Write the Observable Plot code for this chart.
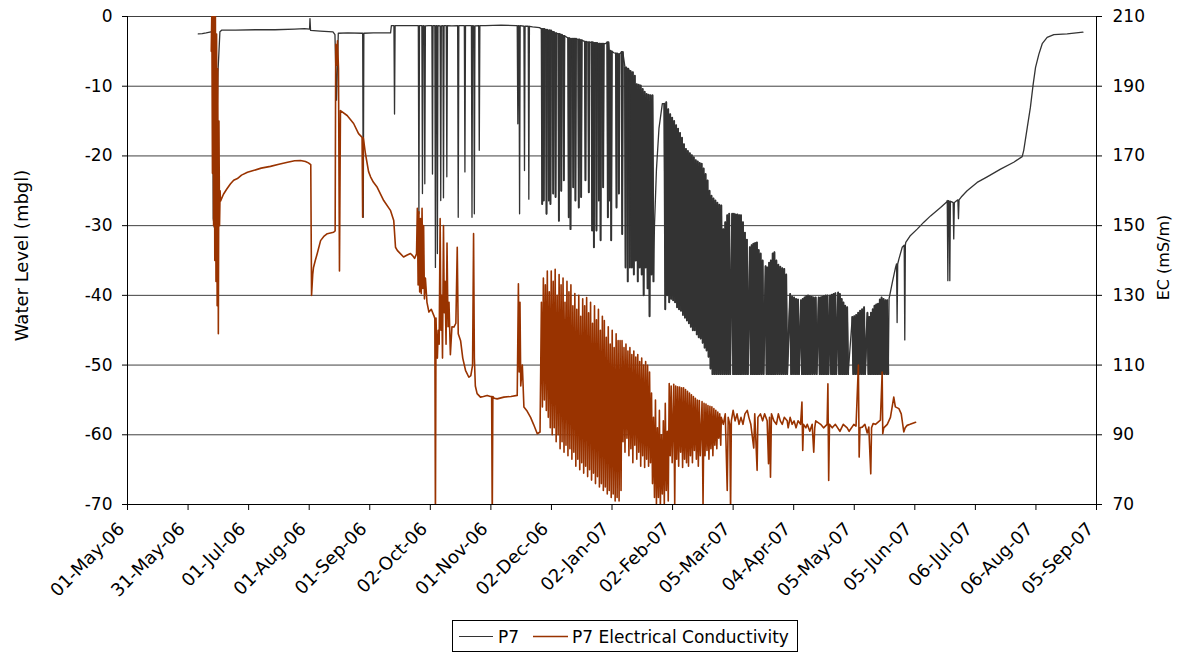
<!DOCTYPE html>
<html>
<head>
<meta charset="utf-8">
<script src="https://cdn.jsdelivr.net/npm/d3@7"></script>
<script src="https://cdn.jsdelivr.net/npm/@observablehq/plot@0.6"></script>
<style>
  html, body { margin: 0; padding: 0; background: #fff; }
  #wrap { position: relative; width: 1185px; height: 654px; font-family: "DejaVu Sans", sans-serif; }
  #legend { position: absolute; left: 452px; top: 620px; width: 344px; height: 30px; border: 1px solid #000; background: #fff; }
  #legend text { font-family: "DejaVu Sans", sans-serif; font-size: 17px; fill: #000; }
</style>
</head>
<body>
<div id="wrap">
  <div id="chart"></div>
  <div id="legend">
    <svg width="344" height="30" style="display:block">
      <line x1="6" x2="40" y1="15.5" y2="15.5" stroke="#333" stroke-width="1.2"></line>
      <text x="45" y="21.5">P7</text>
      <line x1="80" x2="115" y1="15.5" y2="15.5" stroke="#993300" stroke-width="1.6"></line>
      <text x="119" y="21.5">P7 Electrical Conductivity</text>
    </svg>
  </div>
</div>
<script>
// ---------- axis ticks ----------
const levelTicks = [0, -10, -20, -30, -40, -50, -60, -70];
const ecTicks = [210, 190, 170, 150, 130, 110, 90, 70];
const xTickDays = [0, 30.8, 61.6, 92.4, 123.2, 154, 184.8, 215.6, 246.4, 277.2, 308, 338.8, 369.6, 400.4, 431.2, 462, 492.8];
const xTickLabels = ["01-May-06", "31-May-06", "01-Jul-06", "01-Aug-06", "01-Sep-06", "02-Oct-06", "01-Nov-06", "02-Dec-06",
  "02-Jan-07", "02-Feb-07", "05-Mar-07", "04-Apr-07", "05-May-07", "05-Jun-07", "06-Jul-07", "06-Aug-07", "05-Sep-07"];

// ---------- P7 water level (m), x = days since 01-May-06 ----------
// plain readings [day, level]
const p7Points = [
  [36,-2.5],[38,-2.45],[40,-2.35],[42.5,-2.2],[43.3,-2.2],[43.6,-29],[44.2,-30.3],[44.6,-27],[45.2,-20],[46,-8],[47,-2.2],
  [48,-1.95],[55,-1.95],[65,-1.9],[75,-1.9],[85,-1.8],[90,-1.75],[92.6,-1.8],[92.8,-0.3],[93.1,-2.0],[98,-2.1],[104.5,-2.2],
  [105.5,-2.6],[106.3,-12],[107.2,-2.4],[112,-2.35],[119.3,-2.4],[125,-2.35],[133.8,-2.35],[134.2,-1.3],[140,-1.3],[147.5,-1.3],
  [153,-1.3],[165,-1.35],[173.5,-1.3],[182,-1.3],[190,-1.25],[197.5,-1.3],[203,-1.4],[206,-1.5],[209.5,-1.6],
  [223,-2.9],[231.8,-3.5],[243,-3.9],[247.3,-5.2],
  [268,-30],[269,-22],[270.3,-16],[272,-12.5],
  [387.3,-40.5],[387.8,-39.8],[389,-38.1],[390.6,-36],[392.3,-34.8],[394,-33.1],[395.8,-32.4],[398.2,-31.4],[401.6,-30.5],
  [405,-29.5],[408.4,-28.6],[413.5,-27.4],[416.6,-26.6],[419.2,-26.6],[421.3,-26.5],[424,-25.9],[427,-25],[432.1,-23.8],
  [437.2,-23],[444,-21.9],[450.7,-20.9],[455,-20.1],[455.8,-19.2],[457.6,-15.9],[459.2,-13],[460.6,-9.7],[461.8,-7.3],
  [463.5,-5.4],[465.2,-3.9],[467.7,-3],[471.1,-2.6],[477.9,-2.5],[485.9,-2.25]
];
// short pumping spikes [day, resting level, lowest level]
const p7Spikes = [
  [119.9,-2.4,-28.8],[135.8,-1.3,-14],[148.2,-1.3,-28.3],[150,-1.3,-25.4],[151.2,-1.35,-24],[155.1,-1.3,-22.6],
  [156.6,-1.3,-36],[157.6,-1.3,-34],[159.3,-1.35,-26.4],[160.7,-1.3,-26],[162.4,-1.3,-23],[168.2,-1.3,-28.8],
  [171.6,-1.3,-22.3],[175.2,-1.3,-28.8],[176.4,-1.35,-28.3],[178.9,-1.3,-19.2],[198.5,-1.3,-15.4],[199.4,-1.3,-28.3],
  [201.9,-1.4,-22.1],[204.1,-1.4,-26.2],
  [210.9,-1.77,-26.9],[211.7,-1.8,-26.4],[213.1,-1.9,-28.3],[214.3,-2.0,-26.4],[215.1,-2.0,-26.9],[216.5,-2.2,-25.4],
  [217.7,-2.4,-25.9],[219.4,-2.5,-29.3],[220.6,-2.6,-25],[221.9,-2.8,-23.5],[224.4,-3.1,-28.8],[225.3,-3.2,-30.5],
  [226.7,-3.2,-24.5],[227.8,-3.2,-26.4],[229.5,-3.3,-27.4],[230.7,-3.4,-25.9],[232.9,-3.6,-23.5],[234.6,-3.7,-25.2],
  [236.3,-3.7,-30.7],[237.2,-3.8,-33.1],[238.5,-3.8,-30.7],[239.7,-3.9,-26.4],[240.6,-3.9,-32.1],[241.9,-3.9,-24.5],
  [244.3,-3.7,-28.8],[245.3,-4.9,-26.4],[246,-5.0,-32.1],[248.7,-5.3,-27.4],[249.9,-5.4,-25.4],[251.6,-5.1,-31.2],
  [253.3,-7.3,-36],[254.4,-7.5,-38],[255.5,-7.8,-36],
  [391.4,-35.5,-43.9],[395.3,-32.8,-46.4],[417.2,-26.4,-37.9],[418.2,-26.5,-37.9],[420.2,-26.7,-31.9],[422.6,-26.3,-29]
];
// daily pumping cycles [day, recovered level, pumped level]
const p7Cycles = [
  [256,-8,-36],[257,-8,-37],[258,-8.5,-35],[259,-9.7,-38],[260,-9.8,-36],[261,-9.9,-37],[262,-10.4,-40],[263,-10.8,-36],
  [264,-11.1,-39],[265,-11.2,-43],[266,-11.3,-37],[267,-11.3,-38],
  [273,-12.5,-42],[274,-12.3,-40],[275,-13.3,-41],[276,-14,-40.5],[277,-14.5,-40.7],[278,-15,-41],[279,-15.6,-41.7],
  [280,-16.1,-42],[281,-16.7,-42.2],[282,-17.4,-42.8],[283,-18.3,-43.2],[284,-19,-43.6],[285,-19.3,-44],[286,-19.6,-44.5],
  [287,-19.9,-45],[288,-20.2,-45],[289,-20.6,-45.6],[290,-20.8,-46],[291,-21,-46.2],[292,-21.1,-46.8],[293,-21.8,-47.5],
  [294,-22.6,-47.9],[295,-23.5,-48.8],[296,-25,-50.5],[297,-25.7,-51.3],
  [298,-26.1,-51.3],[299,-26.4,-51.3],[300,-26.7,-51.3],[301,-27,-51.3],[302,-27.1,-51.3],[303,-30.5,-51.3],[304,-29.5,-51.3],
  [305,-28.5,-51.3],[306,-28.3,-51.3],[307.5,-28.3,-51.3],[308.4,-28.3,-51.3],[309.3,-28.4,-51.3],[310.2,-28.4,-51.3],
  [311.1,-28.5,-51.3],[312,-28.5,-51.3],[313,-29.5,-51.3],[314,-31,-51.3],[315,-32,-51.3],[316.5,-33.1,-51.3],
  [317.4,-32.8,-51.3],[318.3,-32.6,-51.3],[319.2,-32.5,-51.3],[320.1,-32.4,-51.3],[321,-33.5,-51.3],[322,-34,-51.3],
  [323,-35,-51.3],[324.5,-35.8,-51.3],[325.4,-36,-51.3],[326.3,-35.3,-51.3],[327.2,-35,-51.3],[328.1,-34,-51.3],
  [329,-33.8,-51.3],[330,-35,-51.3],[331,-35.6,-51.3],[332,-35.9,-51.3],[333,-36.1,-51.3],[334,-36.2,-51.3],[335,-37,-51.3],
  [337,-39.8,-51.3],[338,-40.2,-51.3],[339,-40.3,-51.3],[340,-40.5,-51.3],[341,-40.6,-51.3],[342.5,-40.7,-51.3],
  [343.4,-40.5,-51.3],[344.3,-40.3,-51.3],[345.2,-40.1,-51.3],[346.1,-40,-51.3],[347,-40.1,-51.3],[348,-40.2,-51.3],
  [349,-40.3,-51.3],[350,-40.3,-51.3],[351.5,-40.3,-51.3],[352.4,-40.3,-51.3],[353.3,-40.2,-51.3],[354.2,-40.1,-51.3],
  [355.1,-40,-51.3],[356,-40,-51.3],[357.3,-40,-51.3],[358.2,-39.9,-51.3],[359.1,-39.8,-51.3],[360,-39.7,-51.3],
  [361.4,-39.6,-51.3],[362.3,-39.8,-51.3],[363.2,-40.5,-51.3],[364.1,-41,-51.3],[365,-41.5,-51.3],[366,-41.7,-51.3],
  [368.6,-43.1,-51.3],[369.6,-43,-51.3],[370.6,-42.8,-51.3],[371.6,-42.5,-51.3],[372.6,-42.2,-51.3],[373.6,-42,-51.3],
  [374.6,-41.7,-51.3],[376.3,-42.5,-51.3],[377.2,-43.1,-51.3],[378.1,-42.5,-51.3],[379,-42,-51.3],[379.9,-41.5,-51.3],
  [380.8,-41.3,-51.3],[381.7,-41.2,-51.3],[382.6,-40.6,-51.3],[383.5,-40.3,-51.3],[384.5,-40.5,-51.3],[385.5,-40.7,-51.3],
  [386.4,-40.7,-51.3]
];

// ---------- P7 electrical conductivity (mS/m) ----------
const ecPoints = [
  [42.6,200],[42.9,212],[43.2,165],[43.5,212],[43.8,150],[44.1,212],[44.4,140],[44.7,210],[45,134],[45.3,205],[45.6,127],
  [45.9,195],[46.2,119],[46.5,180],[46.8,150],[47.1,160],[47.3,157],
  [48.8,159],[50.5,160.5],[52.4,162],[54,163],[55.9,163.5],[58,164.5],[61,165.3],[64,165.8],[68,166.5],[72.7,167],[77,167.6],
  [81.4,168.2],[85,168.6],[88,168.7],[90.5,168.4],[92,168],[93.2,167.5],
  [93.6,130],[94.2,136],[94.6,138],[95.5,140],[96.5,142],[98.2,145.7],[100,147],[101.6,147.7],[104.8,148.1],[105.6,148.5],
  [105.9,202],[106.4,196],[106.8,203],[107.3,195],[107.8,137],[108.3,183],[111.7,181.6],[115,179.3],[117.5,176.4],[119.2,175.4],
  [120.2,174],[121,170.7],[122.6,165.5],[123.6,164],[125,162.5],[127,161],[130.3,157.2],[133.8,154.3],[135.4,151.5],
  [136.3,143.8],[137.2,142.9],[140.4,141],[142,141.5],[143.9,142],[145,141.4],[146,140.6],
  [147,141.9],[147.4,155],[147.8,133],[148.2,154],[148.6,131],[149,152],[149.4,130.5],[149.8,155],[150.2,132],[150.6,150],
  [151,129],[151.5,135],[152.3,128],[153.3,125.2],[154.5,126],[155.8,124.2],[156.2,123.5],
  [157.2,117],[157.6,112],[158,120],[158.5,116],[159,152],[159.4,120],[159.8,130],[160.2,112],[160.7,150],[161.1,125],
  [161.5,134],[162,116],[162.5,145],[163,121],[163.5,128],[164.2,113],[165,121],[166,120.9],[167,122],[167.7,143.8],
  [168.2,119],[169.4,117],[170.5,112],[171.9,108.5],[173.6,106.5],[174.6,107],[175.5,110],[176,147.7],[176.4,112],
  [176.9,104],[177.8,101.8],[179.5,100.8],[181,101],[182.9,101.3],[184.6,101],
  [186.5,100.5],[188,100.3],[191.4,100.8],[195,101],[198.2,101.3],[198.8,133.3],[199.2,108],[199.6,128],[200,104],
  [200.8,110],[201.6,98],[203,97],[205,95],[206.5,93],[208.4,90.3],[209.8,90.8],
  [302,95],[303,93],[304,96],[305,74],[305.5,95],[306.3,93],[306.7,68],[307.1,94],[308,97],[309,94],[310,96],[311,93],
  [312,95],[313,93],[314,96],[315.2,97],[316,95],[317,93],[318.5,86.2],[319,96],[320.2,79.8],[320.6,95],[321.9,96],
  [323,94],[324,96],[325.3,94],[326,81.7],[326.5,95],[327,77.8],[327.5,96],[328.7,94],[330,93],[331,96],[332,94],
  [333,93],[334,95],[335.5,94],[336,92],[337,95],[338,93],[339,94],[340,92],[341,94],[342.3,93],[343,99.4],[343.4,85.5],
  [343.8,93],[345,92],[345.7,93],[347,91],[348.2,93],[349,85],[349.5,92],[350,94],[352.5,93],[354,92],[355.8,93],
  [356.2,104.6],[356.6,76.9],[357,93],[358.4,92],[360,93],[362.3,91],[364,93],[366,92],[367,91],[369.4,93],[370.5,92.5],
  [371.7,110],[372.1,83.6],[372.5,92],[373.7,92.2],[375,93],[376.2,90.5],[377,92.2],[378,78.8],[378.4,92],[379.2,93.2],
  [380.4,93],[382.9,94.2],[383.8,108],[384.1,90.3],[384.6,92],[386.4,93],[388,95],[389.7,100.8],[390.5,98],[392.3,97.5],
  [393.5,96],[394.8,90.8],[395.5,92],[396.5,92.7],[398,93],[400.8,93.6]
];
// single-reading spikes [day, surrounding EC, extreme EC]
const ecSpikes = [
  [119.6,175.2,152.4],[156.6,123.5,65],[185.5,101,65]
];
// dense pumping-period swings [day, high EC, low EC]
const ecCycles = [
  [210.5,128,98],[211.5,135,100],[212.5,133,97],[213.5,137,95],[214.5,131,92],[215.5,137,90],[216.5,134,92],[217.5,137.5,88],
  [218.5,130,90],[219.5,136,86],[220.5,133,88],[221.5,135,85],[222.5,128,87],[223.5,134,84],[224.5,131,86],[225.5,133,83],
  [226.5,127,85],[227.5,130.5,81],[228.5,126,83],[229.5,130,80],[230.5,124,82],[231.5,129,79],[232.5,127,81],[233.5,129.4,78],
  [234.5,125,80],[235.5,128,77],[236.5,122,79],[237.5,127,76],[238.5,123,78],[239.5,126,75],[240.5,120,76],[241.5,124,74],
  [242.5,122.8,75],[243.5,118,73],[244.5,121,74],[245.5,116,72],[246.5,120,73],[247.5,115,71],[248.5,119,72],[249.5,117,71],
  [250.5,117,74],
  [251.5,117,88],[252.5,115,85],[253.5,116,89],[254.5,114,84],[255.5,115,86],[256.5,113,82],[257.5,114,87],[258.5,112.3,83],
  [259.5,113,85],[260.5,111,81],[261.5,112,84],[262.5,110,80.6],[263.5,111,83],[264.5,109.9,81],[265.5,108,82],
  [266.5,102,76],[267.5,95,72],[268.5,100,70],[269.5,92,72],[270.5,97,69],[271.5,90,73],[272.5,94,70],[273.5,99,74],[274.5,91,71],
  [275.5,104.7,84],[276.5,104,82],[277.8,104.5,70],[278.8,104,83],[279.8,103.8,81],[280.8,103.7,85],[281.8,103.5,80.6],
  [282.8,103.5,83],[283.8,103,82],[284.8,102.5,81],[285.8,102,84],[286.8,101.5,82],[287.8,101,85.5],[288.8,100.5,83],
  [289.8,100,81],[290.8,99.8,84],[292.2,99.5,70],[293.2,99,84],[294.2,98.8,85.5],[295.2,98.4,83],[296.2,98.2,86],
  [297.2,98,84],[298.2,97.5,87],[299.2,97,86],[300.2,96.5,89],[301.2,96,87]
];

// ---------- build tables ----------
const DAY = 864e5;
const t0 = Date.UTC(2006, 4, 1);
const toDate = d => new Date(t0 + d * DAY);
const toLevel = e => (e - 210) / 2; // EC axis (70..210) shares the level axis (-70..0)

function buildSeries(points, spikes, cycles) {
  const out = [];
  for (const [d, v] of points) out.push([d, v]);
  for (const [d, a, b] of spikes) out.push([d - 0.3, a], [d, b], [d + 0.3, a]);
  for (const [d, a, b] of cycles) out.push([d, a], [d + 0.5, b]);
  out.sort((p, q) => p[0] - q[0]);
  return out.map(([d, v]) => ({date: toDate(d), v}));
}
// heavier overlay: each spike on its own, the continuous daily cycles split at pauses
function buildOverlay(spikes, cycles) {
  const out = [];
  spikes.forEach(([d, a, b], i) => {
    const g = "s" + i;
    out.push({date: toDate(d - 0.3), v: a, g}, {date: toDate(d), v: b, g}, {date: toDate(d + 0.3), v: a, g});
  });
  let run = 0, prev = -Infinity;
  for (const [d, a, b] of cycles) {
    if (d - prev > 2.2) run++;
    const g = "c" + run;
    out.push({date: toDate(d), v: a, g}, {date: toDate(d + 0.5), v: b, g});
    prev = d;
  }
  return out;
}
const p7 = buildSeries(p7Points, p7Spikes, p7Cycles);
const p7Heavy = buildOverlay(p7Spikes.filter(s => s[0] > 205 && s[0] < 260), p7Cycles);
const ec = buildSeries(ecPoints, ecSpikes, ecCycles);
const xTicks = xTickDays.map((d, i) => ({date: toDate(d), label: xTickLabels[i]}));
const ecLabel = new Map(ecTicks.map(e => [toLevel(e), String(e)]));

const chart = Plot.plot({
  width: 1185,
  height: 615,
  marginLeft: 127,
  marginRight: 89,
  marginTop: 16,
  marginBottom: 111,
  style: {fontFamily: "'DejaVu Sans', sans-serif", fontSize: "17px", background: "#fff", color: "#000", overflow: "visible"},
  x: {type: "utc", domain: [toDate(0), toDate(492.8)], axis: null},
  y: {domain: [-70, 0], axis: null},
  marks: [
    Plot.ruleY(levelTicks.filter(v => v > -70), {stroke: "#404040", strokeWidth: 1}),
    Plot.line(p7, {x: "date", y: "v", stroke: "#333", strokeWidth: 1.3, clip: true}),
    Plot.line(p7Heavy, {x: "date", y: "v", z: "g", stroke: "#333", strokeWidth: 1.9, clip: true}),
    Plot.line(ec, {x: "date", y: d => toLevel(d.v), stroke: "#993300", strokeWidth: 1.6, clip: true}),
    Plot.ruleY([-70], {stroke: "#000"}),
    Plot.ruleX([toDate(0), toDate(492.8)], {stroke: "#000"}),
    Plot.axisY(levelTicks, {anchor: "left", tickSize: 5, tickPadding: 10, tickFormat: d => String(d), label: null, fontSize: 17}),
    Plot.axisY(ecTicks.map(toLevel), {anchor: "right", tickSize: 5, tickPadding: 11, tickFormat: v => ecLabel.get(v), label: null, fontSize: 17}),
    Plot.axisX(xTicks.map(t => t.date), {anchor: "bottom", tickSize: 6, tickFormat: () => "", label: null}),
    Plot.text(xTicks, {x: "date", text: "label", frameAnchor: "bottom", dy: 25.5, dx: -2, rotate: -45, textAnchor: "end", lineAnchor: "bottom", fontSize: 18}),
    Plot.text(["Water Level (mbgl)"], {text: d => d, frameAnchor: "left", dx: -105, dy: -5, rotate: -90, textAnchor: "middle", lineAnchor: "middle", fontSize: 18}),
    Plot.text(["EC (mS/m)"], {text: d => d, frameAnchor: "right", dx: 67, dy: -3, rotate: -90, textAnchor: "middle", lineAnchor: "middle", fontSize: 16})
  ]
});
document.getElementById("chart").appendChild(chart);
</script>
</body>
</html>
